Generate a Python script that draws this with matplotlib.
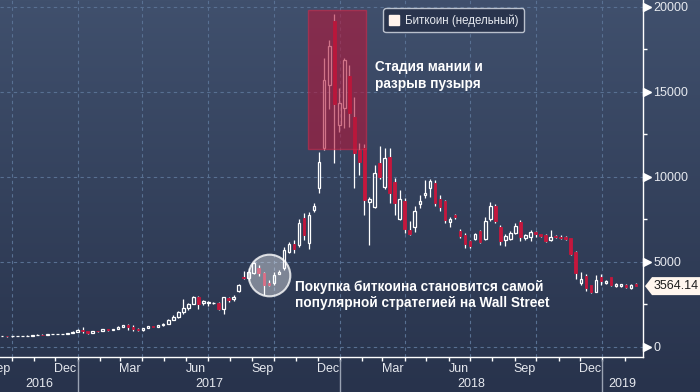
import numpy as np
import pandas as pd
import matplotlib
matplotlib.use('Agg')
import matplotlib.pyplot as plt
import matplotlib.dates as mdates
import matplotlib.transforms as mtransforms
from matplotlib.patches import Rectangle, Polygon
from matplotlib.lines import Line2D

plt.rcParams['font.family'] = ['Liberation Sans', 'DejaVu Sans']

# weekly candles, one per week ending on Sunday
weeks = pd.date_range('2016-09-18', periods=127, freq='W-SUN')

opens = [607, 609, 600, 612, 617, 639, 655, 700, 711, 703, 730, 736, 765, 770, 790,
         890, 1000, 905, 825, 920, 912, 1015, 998, 1050, 1172, 1270, 1180, 1060, 970,
         1100, 1190, 1170, 1250, 1360, 1560, 1770, 2050, 2300, 2520, 2950, 2590, 2575,
         2560, 2590, 2200, 2880, 2780, 3280, 4120, 4030, 4320, 4650, 4350, 3760, 3730,
         4290, 4610, 5590, 6020, 5980, 7550, 6080, 8040, 9310, 11670, 15390, 19170, 13040,
         14020, 15920, 13520, 11570, 11670, 8500, 8230, 10820, 9370, 11150, 9680, 7500,
         8560, 6860, 7030, 8380, 8910, 9320, 9620, 8680, 8560, 7320, 7745, 6820, 6570,
         6220, 6330, 6820, 6330, 7490, 8290, 7020, 6270, 6330, 6700, 7350, 6410, 6470,
         6730, 6610, 6570, 6270, 6500, 6470, 6470, 6370, 5550, 3730, 4160, 3630, 3230,
         4080, 3770, 4080, 3570, 3570, 3630, 3450, 3680]
highs = [612, 611, 613, 619, 642, 659, 717, 743, 722, 756, 748, 767, 774, 792, 930,
         1020, 1150, 915, 925, 930, 1030, 1060, 1060, 1190, 1290, 1330, 1260, 1080, 1110,
         1210, 1215, 1260, 1380, 1600, 1860, 2080, 2780, 2560, 2980, 2990, 2760, 2680,
         2650, 2620, 2950, 2950, 3050, 3700, 4480, 4600, 4980, 4800, 4410, 3900, 4410,
         4500, 5880, 6170, 6270, 7490, 7840, 7940, 8450, 11470, 16960, 18030, 19560, 15190,
         16960, 16560, 14700, 11960, 11900, 8820, 10680, 11800, 11680, 11680, 9910, 9200,
         8740, 7380, 8270, 8910, 9800, 9850, 9800, 8910, 8600, 7620, 7800, 6900, 6700,
         6300, 6700, 6850, 7600, 8500, 8400, 7150, 6600, 6800, 7300, 7450, 6650, 6850,
         6800, 6650, 6650, 6860, 6550, 6550, 6500, 6420, 5600, 4410, 4250, 3650, 4200,
         4280, 3950, 4120, 3720, 3700, 3660, 3680, 3720]
lows = [603, 593, 599, 607, 614, 628, 652, 680, 695, 700, 725, 730, 752, 767, 789,
        880, 810, 760, 815, 880, 910, 950, 990, 1050, 1170, 1000, 950, 900, 940,
        1080, 1160, 1165, 1240, 1350, 1550, 1700, 1900, 2150, 2500, 2200, 2450, 2400,
        2500, 2150, 1900, 2650, 2700, 3200, 3970, 3900, 4250, 4150, 3040, 3550, 3650,
        4250, 4510, 5490, 5490, 5880, 6270, 5730, 7950, 9020, 11570, 14000, 10780, 12640,
        12860, 12940, 9310, 10100, 7740, 5980, 8160, 9860, 9300, 8440, 7750, 7440,
        6680, 6560, 6740, 8150, 8740, 8800, 8300, 7980, 7300, 7030, 7500, 6400, 5800,
        5800, 6300, 6100, 6250, 7400, 7300, 6000, 5900, 6300, 6650, 6200, 6250, 6200,
        6450, 6450, 6150, 6230, 6380, 6320, 6300, 5400, 4000, 3630, 3300, 3150, 3200,
        3630, 3700, 3550, 3520, 3540, 3450, 3420, 3550]
closes = [609, 600, 612, 617, 639, 655, 700, 711, 703, 730, 736, 765, 770, 790, 890,
          1000, 905, 825, 920, 912, 1015, 998, 1050, 1172, 1270, 1180, 1060, 970, 1100,
          1190, 1170, 1250, 1360, 1560, 1770, 2050, 2300, 2520, 2950, 2510, 2700, 2600,
          2585, 2200, 2900, 2770, 2950, 3630, 4060, 4400, 4900, 4320, 3630, 3630, 4220,
          4390, 5690, 6020, 5750, 7290, 6570, 7740, 8270, 10880, 15680, 17680, 14270, 14310,
          16860, 13720, 11370, 10880, 8630, 8680, 10200, 10000, 11080, 9030, 8440, 8680,
          6910, 6620, 7980, 8560, 9030, 9740, 8440, 8210, 7440, 7500, 7610, 6510, 6040,
          5920, 6610, 6170, 7390, 8270, 7390, 6220, 6510, 6670, 7100, 6470, 6570, 6730,
          6610, 6510, 6230, 6470, 6430, 6370, 6330, 5450, 4320, 3960, 3430, 3200, 3920,
          3880, 3840, 3630, 3690, 3670, 3510, 3630, 3564.14]

y_ticks = [0, 5000, 10000, 15000, 20000]
month_names = {3: 'Mar', 6: 'Jun', 9: 'Sep', 12: 'Dec'}
years = [2016, 2017, 2018, 2019]

red = '#c4173d'
txt = '#e6e9ef'
x_min, x_max = mdates.date2num(pd.Timestamp('2016-09-16')), mdates.date2num(pd.Timestamp('2019-02-26 12:00'))

fig = plt.figure(figsize=(7, 3.92), dpi=100)

# gradient background over whole figure
bg = fig.add_axes([0, 0, 1, 1], zorder=-5)
grad = np.linspace(0, 1, 256)[:, None]
top_c = np.array([0x40, 0x50, 0x6d]) / 255
bot_c = np.array([0x28, 0x33, 0x4c]) / 255
img = top_c[None, None, :] * (1 - grad[..., None]) + bot_c[None, None, :] * grad[..., None]
bg.imshow(np.repeat(img, 2, axis=1), aspect='auto', extent=[0, 1, 0, 1])
bg.axis('off')

ax = fig.add_axes([0, 35 / 392, 643 / 700, 357 / 392])
ax.set_facecolor('none')

x = mdates.date2num(weeks)
o, h, l, c = (np.array(v, dtype=float) for v in (opens, highs, lows, closes))
up = c >= o
lo_b = np.minimum(o, c)
hi_b = np.maximum(o, c)

ax.vlines(x, l, lo_b, color='white', lw=0.9, zorder=3)
ax.vlines(x, hi_b, h, color='white', lw=0.9, zorder=3)
ax.bar(x[up], (hi_b - lo_b)[up], bottom=lo_b[up], width=3.6, facecolor='none',
       edgecolor='white', lw=0.9, zorder=3)
ax.bar(x[~up], (hi_b - lo_b)[~up], bottom=lo_b[~up], width=3.6, color=red,
       edgecolor=red, lw=0.6, zorder=3)

# grid
for yv in y_ticks:
    ax.axhline(yv, color='#587092', lw=0.8, ls=(0, (3, 3)), zorder=0)
for d in pd.date_range('2016-10-01', '2019-01-01', freq='QS'):
    ax.axvline(mdates.date2num(d), color='#587092', lw=0.8, ls=(0, (3, 3)), zorder=0)

# highlighted bubble area
r0 = mdates.date2num(pd.Timestamp('2017-11-17'))
r1 = mdates.date2num(pd.Timestamp('2018-02-06'))
ax.add_patch(Rectangle((r0, 11620), r1 - r0, 8200, facecolor='#b3173a', alpha=0.6,
                       edgecolor='#cc2a4a', lw=1, zorder=4))
ax.plot(mdates.date2num(pd.Timestamp('2017-09-24')), 4220, marker='o', ms=30,
        mfc=(1, 1, 1, 0.38), mec=(1, 1, 1, 0.8), mew=1.5, zorder=4)

ax.text(mdates.date2num(pd.Timestamp('2018-02-18')), 16850, 'Стадия мании и\nразрыв пузыря',
        color='white', fontsize=9.8, fontweight='bold', va='top', ha='left', linespacing=1.25, zorder=6)
ax.text(mdates.date2num(pd.Timestamp('2017-10-30')), 3950,
        'Покупка биткоина становится самой\nпопулярной стратегией на Wall Street',
        color='white', fontsize=9.8, fontweight='bold', va='top', ha='left', linespacing=1.25, zorder=6)

ax.set_xlim(x_min, x_max)
ax.set_ylim(-606, 20394)

# right axis
for s in ['top', 'left']:
    ax.spines[s].set_visible(False)
for s in ['right', 'bottom']:
    ax.spines[s].set_color('white')
    ax.spines[s].set_linewidth(1)
ax.yaxis.tick_right()
ax.set_yticks(y_ticks)
ax.set_yticklabels([str(v) for v in y_ticks])
ax.set_yticks(np.arange(2500, 20000, 5000), minor=True)
ax.tick_params(axis='y', which='major', length=0, pad=7.5, labelsize=9, labelcolor=txt)
ax.tick_params(axis='y', which='minor', length=3, width=1, color='white', direction='out')
blend = mtransforms.blended_transform_factory(ax.transAxes, ax.transData)
tri = blend + mtransforms.ScaledTranslation(0.04, 0, fig.dpi_scale_trans)
ax.plot([1] * len(y_ticks), y_ticks, ls='none', marker='>', ms=6, color='white',
        transform=tri, clip_on=False)

# last price tag: small pointed label next to the axis
tag_tr = mtransforms.Affine2D().scale(0.01) + fig.dpi_scale_trans + \
    mtransforms.ScaledTranslation(1, closes[-1], blend)
ax.add_patch(Polygon([(2, 0), (9, 9), (62, 9), (62, -9), (9, -9)], closed=True,
                     facecolor='#fff6ee', edgecolor='none', transform=tag_tr, clip_on=False))
ax.text(11, 0, f'{closes[-1]:.2f}', transform=tag_tr, ha='left', va='center',
        fontsize=9, color='#1c1c1c', clip_on=False)

# bottom axis: month ticks, quarter labels, years
month_starts = pd.date_range('2016-10-01', '2019-02-01', freq='MS')
ax.set_xticks(mdates.date2num(month_starts), minor=True)
mid = [d + pd.Timedelta(days=14) for d in pd.date_range('2016-09-01', '2018-12-01', freq='MS')
       if d.month in month_names]
ax.set_xticks(mdates.date2num(mid))
ax.set_xticklabels([month_names[d.month] for d in mid])
ax.tick_params(axis='x', which='major', length=0, pad=4, labelsize=9, labelcolor=txt)
ax.tick_params(axis='x', which='minor', length=3, width=1, color='white', direction='out')

xt = mtransforms.blended_transform_factory(ax.transData, ax.transAxes)
bounds = [x_min] + [mdates.date2num(pd.Timestamp(f'{y}-01-01')) for y in years[1:]] + [x_max]
for i, y in enumerate(years):
    ax.text((bounds[i] + bounds[i + 1]) / 2, -0.076, str(y), transform=xt, ha='center',
            va='center', fontsize=9, color=txt)
for b in bounds[1:-1]:
    ax.plot([b, b], [-0.008, -0.1], transform=xt, color='#9aa3b3', lw=1, clip_on=False)

handle = Line2D([], [], ls='none', marker='s', ms=7.5, mfc='#fff3ec', mec='#fff3ec')
leg = ax.legend([handle], ['Биткоин (недельный)'], loc='upper left',
                bbox_to_anchor=(380 / 643, 1 - 5 / 357), fontsize=8.3, labelcolor=txt,
                handlelength=0.9, handletextpad=0.45, borderpad=0.5, borderaxespad=0.3,
                frameon=True, fancybox=True, framealpha=1)
leg.get_frame().set_facecolor('#29344d')
leg.get_frame().set_edgecolor('#b9c0cc')
leg.set_zorder(7)

fig.savefig('out.png', dpi=100)
